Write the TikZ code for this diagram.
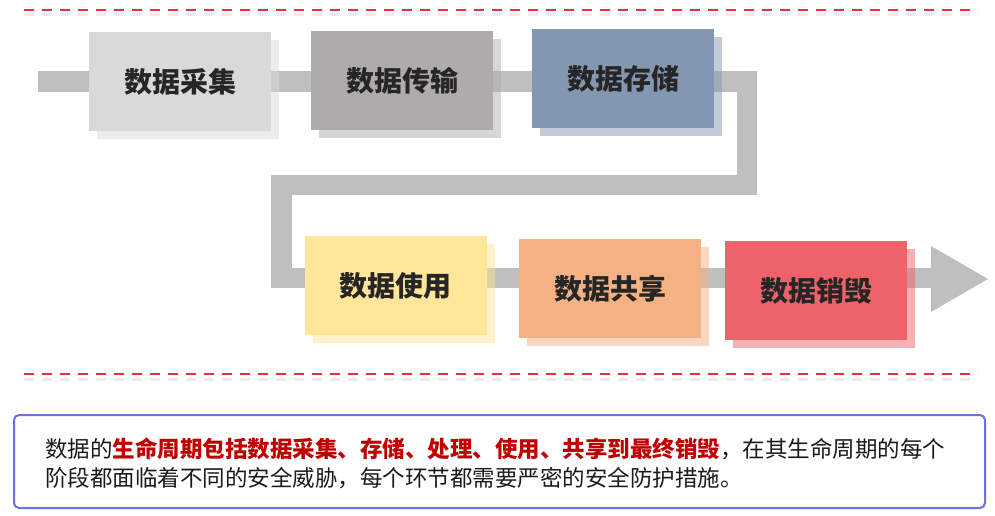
\documentclass[tikz,border=0pt]{standalone}
\usepackage{fontspec}
\setmainfont{Noto Sans CJK SC}
\usetikzlibrary{shadows}
\definecolor{bandgray}{HTML}{BFBFBF}
\definecolor{labelc}{HTML}{262626}
\definecolor{cA}{HTML}{D9D9D9}
\definecolor{cB}{HTML}{AFABAB}
\definecolor{cC}{HTML}{8497B0}
\definecolor{cD}{HTML}{FFE699}
\definecolor{cE}{HTML}{F4B183}
\definecolor{cF}{HTML}{EE6369}
\definecolor{dashred}{HTML}{E8303A}
\definecolor{dashshadow}{HTML}{E6ECF8}
\definecolor{noteborder}{HTML}{6F6FDF}
\definecolor{notered}{HTML}{C00000}
\definecolor{notetext}{HTML}{1A1A1A}
\begin{document}
\begin{tikzpicture}[x=1pt,y=-1pt,
  stage/.style={minimum width=182pt, minimum height=99pt, inner sep=0pt,
    font=\fontsize{28}{30}\selectfont\bfseries, text=labelc,
    fill=#1, drop shadow={fill=#1, opacity=0.5, shadow xshift=8pt, shadow yshift=-8pt}},
  band/.style={draw=bandgray, line width=20.5pt, line join=miter},
  reddash/.style={draw=dashred, line width=1.6pt, dash pattern=on 10pt off 8pt},
  dashshade/.style={draw=dashshadow, line width=3pt, dash pattern=on 10pt off 8pt},
  notefont/.style={font=\fontsize{22.5}{29}\selectfont, text=notetext, inner sep=0pt, anchor=base west}
]
\useasboundingbox (0,0) rectangle (995,516);

% dashed separators
\coordinate (d1a) at (24,10);  \coordinate (d1b) at (978,10);
\coordinate (d2a) at (24,374); \coordinate (d2b) at (978,374);
\draw[dashshade] ([yshift=-5pt]d1a) -- ([yshift=-5pt]d1b);
\draw[dashshade] ([yshift=-5pt]d2a) -- ([yshift=-5pt]d2b);
\draw[reddash] (d1a) -- (d1b);
\draw[reddash] (d2a) -- (d2b);

% track
\coordinate (t0) at (38,81.5);
\coordinate (t1) at (747,81.5);
\coordinate (t2) at (747,185);
\coordinate (t3) at (281.5,185);
\coordinate (t4) at (281.5,278);
\coordinate (t5) at (931,278);
\coordinate (tipA) at (931,246);
\coordinate (tip) at (988,279);
\coordinate (tipB) at (931,312);
\draw[band] (t0) -- (t1) -- (t2) -- (t3) -- (t4) -- (t5);
\fill[bandgray] (tipA) -- (tip) -- (tipB) -- cycle;

% stages
\node[stage=cA] (s1) at (180,81.5) {数据采集};
\node[stage=cB] (s2) at (402,80.5) {数据传输};
\node[stage=cC] (s3) at (623,78.5) {数据存储};
\node[stage=cD] (s4) at (395.5,285.5) {数据使用};
\node[stage=cE] (s5) at (610,288.5) {数据共享};
\node[stage=cF] (s6) at (816,290.5) {数据销毁};

% note box
\draw[draw=noteborder, line width=2pt, rounded corners=5pt] (14,415) rectangle (985,508);
\node[notefont] (n1) at (45,457.5) {数据的{\bfseries\color{notered}生命周期包括数据采集、存储、处理、使用、共享到最终销毁}，在其生命周期的每个};
\node[notefont] (n2) at (45,486.5) {阶段都面临着不同的安全威胁，每个环节都需要严密的安全防护措施。};
\end{tikzpicture}
\end{document}
